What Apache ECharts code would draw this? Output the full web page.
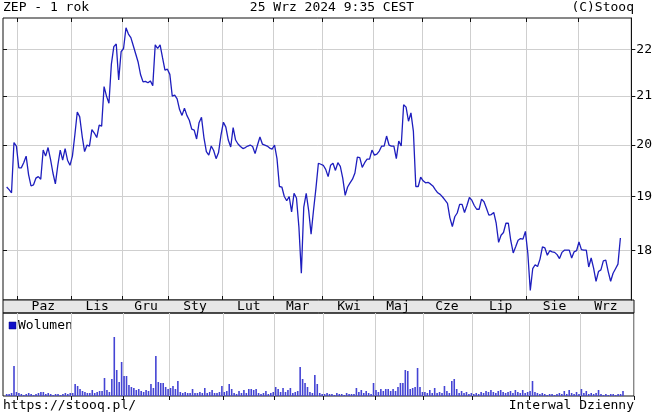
<!DOCTYPE html>
<html>
<head>
<meta charset="utf-8">
<script src="https://cdn.jsdelivr.net/npm/echarts@6/dist/echarts.min.js"></script>
<style>
  html, body { margin: 0; padding: 0; background: #fff; }
  #chart { width: 655px; height: 416px; }
</style>
</head>
<body>
<div id="chart"></div>
<script>
// sesje GPW: od startDate do endDate, bez weekendow i swiat
const startDate = '2023-09-25';
const endDate = '2024-09-25';
const holidays = ['2023-11-01', '2023-12-25', '2023-12-26', '2024-01-01', '2024-03-29',
  '2024-04-01', '2024-05-01', '2024-05-03', '2024-05-30', '2024-08-15'];
// puste miejsce po bokach osi
const padBefore = ['2023-09-22'];
const padAfter = ['2024-09-26', '2024-09-27', '2024-09-30', '2024-10-01'];

const monthNames = ['Sty', 'Lut', 'Mar', 'Kwi', 'Maj', 'Cze', 'Lip', 'Sie', 'Wrz', 'Paz', 'Lis', 'Gru'];
const priceTicks = [18, 19, 20, 21, 22];

// kurs zamkniecia
const closes = [
  19.18, 19.13, 19.07, 20.05, 19.98,                                   // wrz
  19.55, 19.55, 19.65, 19.78, 19.42, 19.2, 19.22, 19.35, 19.38, 19.33, 19.9,
  19.78, 19.95, 19.72, 19.45, 19.24, 19.6, 19.9, 19.7, 19.93, 19.7, 19.6, // paz
  19.78, 20.2, 20.67, 20.57, 20.18, 19.87, 20.0, 19.98, 20.31, 20.24, 20.15,
  20.4, 20.38, 21.2, 21.0, 20.85, 21.68, 22.06, 22.12, 21.34, 21.95,    // lis
  22.02, 22.48, 22.34, 22.26, 22.08, 21.9, 21.72, 21.45, 21.3, 21.31, 21.28,
  21.32, 21.22, 22.1, 22.02, 22.1, 21.82, 21.55, 21.57,                 // gru
  21.46, 21.0, 21.02, 20.94, 20.72, 20.6, 20.75, 20.6, 20.5, 20.32, 20.3,
  20.12, 20.45, 20.56, 20.15, 19.87, 19.8, 19.98, 19.89, 19.73, 19.85, 20.2, // sty
  20.46, 20.36, 20.1, 19.96, 20.35, 20.1, 20.02, 19.97, 19.93, 19.95, 19.98,
  20.0, 19.97, 19.83, 20.0, 20.16, 20.02, 20.0, 19.98, 19.94, 19.92,    // lut
  20.0, 19.73, 19.19, 19.18, 19.0, 18.92, 19.0, 18.71, 19.06, 18.97,
  18.43, 17.6, 18.8, 19.06, 18.74, 18.3, 18.74, 19.16, 19.64, 19.62,    // mar
  19.6, 19.52, 19.38, 19.6, 19.64, 19.5, 19.65, 19.58, 19.35, 19.02, 19.18,
  19.26, 19.33, 19.45, 19.76, 19.75, 19.56, 19.65, 19.72, 19.72, 19.9,  // kwi
  19.8, 19.82, 19.88, 19.98, 19.98, 20.18, 20.0, 19.98, 19.98, 19.73,
  20.08, 19.98, 20.82, 20.77, 20.48, 20.65, 20.28, 19.19, 19.19, 19.37, // maj
  19.3, 19.26, 19.27, 19.24, 19.2, 19.13, 19.07, 19.04, 18.99, 18.93,
  18.87, 18.6, 18.44, 18.62, 18.69, 18.85, 18.85, 18.7, 18.83, 18.98,   // cze
  18.93, 18.83, 18.76, 18.76, 18.95, 18.9, 18.78, 18.65, 18.66, 18.7, 18.5, 18.15,
  18.28, 18.33, 18.5, 18.5, 18.18, 17.96, 18.07, 18.19, 18.22, 18.21, 18.35, // lip
  17.95, 17.3, 17.68, 17.75, 17.72, 17.85, 18.07, 18.05, 17.92, 18.0, 17.98,
  17.97, 17.93, 17.86, 17.97, 18.01, 18.01, 18.01, 17.87, 17.98, 18.0,  // sie
  18.16, 18.02, 18.01, 18.01, 17.71, 17.87, 17.69, 17.46, 17.63,
  17.66, 17.82, 17.83, 17.63, 17.46, 17.6, 17.68, 17.76, 18.23          // wrz
];

// wolumen (tys. szt.)
const volumes = [
  2, 2, 3, 30, 4,
  3, 2, 1, 2, 3, 2, 1, 2, 3, 4, 4, 2, 3, 2, 1, 2, 2, 1, 2, 3, 2, 3,
  3, 12, 10, 7, 5, 4, 3, 3, 6, 3, 4, 5, 5, 18, 6, 4, 17, 59, 26, 14, 34,
  20, 20, 11, 9, 8, 6, 7, 5, 4, 6, 5, 12, 8, 40, 14, 13, 13, 9, 7,
  8, 10, 7, 15, 4, 3, 4, 3, 3, 7, 3, 3, 4, 3, 8, 3, 4, 6, 3, 3, 4, 10,
  4, 5, 12, 7, 3, 2, 5, 3, 6, 3, 7, 7, 6, 7, 3, 2, 3, 5, 2, 3, 4,
  9, 7, 4, 8, 4, 6, 8, 3, 4, 5, 29, 17, 13, 9, 4, 3, 21, 12, 3, 2,
  2, 3, 2, 2, 1, 3, 2, 2, 1, 3, 2, 2, 2, 8, 4, 6, 3, 5, 3, 2, 13,
  6, 4, 7, 5, 7, 7, 5, 7, 5, 9, 13, 13, 26, 25, 7, 8, 9, 28, 9, 4,
  4, 3, 6, 3, 8, 3, 4, 3, 10, 5, 3, 15, 17, 7, 3, 5, 3, 4, 2, 3,
  2, 3, 2, 4, 3, 5, 4, 6, 4, 3, 5, 6, 4, 3, 4, 5, 3, 6, 4, 3, 6, 3, 4,
  5, 15, 4, 3, 2, 3, 2, 1, 2, 2, 1, 2, 3, 2, 5, 2, 6, 3, 2, 4, 2,
  7, 3, 5, 2, 3, 2, 3, 6, 2, 1, 2, 1, 2, 2, 1, 2, 2, 5
];

function tradingDays(from, to, skip) {
  const out = [];
  const d = new Date(from + 'T00:00:00Z');
  const end = new Date(to + 'T00:00:00Z');
  while (d <= end) {
    const s = d.toISOString().slice(0, 10);
    const wd = d.getUTCDay();
    if (wd !== 0 && wd !== 6 && skip.indexOf(s) < 0) out.push(s);
    d.setUTCDate(d.getUTCDate() + 1);
  }
  return out;
}

const dates = tradingDays(startDate, endDate, holidays);
const categories = padBefore.concat(dates, padAfter);

// poczatki miesiecy (indeksy kategorii) i miejsca podpisow
const starts = [];
dates.forEach((d, i) => {
  if (i > 0 && d.slice(0, 7) !== dates[i - 1].slice(0, 7)) starts.push(i + padBefore.length);
});
const isStart = (idx) => starts.indexOf(idx) >= 0;
const labelAt = {};
starts.forEach((s, k) => {
  const e = k + 1 < starts.length ? starts[k + 1] : categories.length;
  labelAt[Math.floor((s + e - 1) / 2)] = monthNames[+categories[s].slice(5, 7) - 1];
});

const FONT = 'DejaVu Sans Mono';
const gridColor = '#cfcfcf';
const edge = '#111';

const option = {
  animation: false,
  backgroundColor: '#fff',
  grid: [
    { left: 3, right: 21, top: 18, height: 282, show: true, borderColor: edge, borderWidth: 1 },
    { left: 3, right: 21, top: 300, height: 13, show: true, backgroundColor: '#e6e6e6', borderColor: edge, borderWidth: 1 },
    { left: 3, right: 21, top: 313, height: 83, show: true, borderColor: edge, borderWidth: 1 }
  ],
  xAxis: [
    {
      gridIndex: 0, type: 'category', data: categories, boundaryGap: true, position: 'bottom',
      axisLine: { show: false },
      axisTick: { show: true, inside: true, length: 4, interval: isStart, lineStyle: { color: edge } },
      axisLabel: { show: false },
      splitLine: { show: true, interval: isStart, lineStyle: { color: gridColor, width: 1 } }
    },
    {
      gridIndex: 0, type: 'category', data: categories, boundaryGap: true, position: 'top',
      axisLine: { show: false },
      axisTick: { show: true, inside: true, length: 4, interval: isStart, lineStyle: { color: edge } },
      axisLabel: { show: false },
      splitLine: { show: false }
    },
    {
      gridIndex: 1, type: 'category', data: categories, boundaryGap: true, position: 'bottom',
      axisLine: { show: false },
      axisTick: { show: false },
      axisLabel: {
        show: true, interval: (idx) => labelAt[idx] !== undefined,
        formatter: (val, idx) => labelAt[idx] || '',
        margin: -6, verticalAlign: 'middle',
        color: '#000', fontFamily: FONT, fontSize: 13
      },
      splitLine: { show: false }
    },
    {
      gridIndex: 2, type: 'category', data: categories, boundaryGap: true, position: 'top',
      axisLine: { show: false },
      axisTick: { show: true, inside: true, length: 4, interval: isStart, lineStyle: { color: edge } },
      axisLabel: { show: false },
      splitLine: { show: true, interval: isStart, lineStyle: { color: gridColor, width: 1 } }
    }
  ],
  yAxis: [
    {
      gridIndex: 0, type: 'log', logBase: 10, min: 17.137, max: 22.70, position: 'right',
      axisLine: { show: true, lineStyle: { color: edge } },
      axisTick: { show: true, inside: false, length: 4, customValues: priceTicks, lineStyle: { color: edge } },
      axisLabel: { show: true, customValues: priceTicks, margin: 5, color: '#000', fontFamily: FONT, fontSize: 13 },
      splitLine: { show: true, lineStyle: { color: gridColor, width: 1 } }
    },
    {
      gridIndex: 0, type: 'log', logBase: 10, min: 17.137, max: 22.70, position: 'left',
      axisLine: { show: false },
      axisTick: { show: true, inside: true, length: 4, customValues: priceTicks, lineStyle: { color: edge } },
      axisLabel: { show: false },
      splitLine: { show: false }
    },
    { gridIndex: 1, type: 'value', min: 0, max: 1, show: false },
    { gridIndex: 2, type: 'value', min: 0, max: 83, show: false }
  ],
  graphic: [
    { type: 'text', x: 3, y: 1, style: { text: 'ZEP - 1 rok', font: '13px ' + FONT, fill: '#000', textVerticalAlign: 'top' } },
    { type: 'text', x: 332, y: 1, style: { text: '25 Wrz 2024 9:35 CEST', font: '13px ' + FONT, fill: '#000', textAlign: 'center', textVerticalAlign: 'top' } },
    { type: 'text', x: 634, y: 1, style: { text: '(C)Stooq', font: '13px ' + FONT, fill: '#000', textAlign: 'right', textVerticalAlign: 'top' } },
    { type: 'rect', shape: { x: 9, y: 322, width: 7, height: 7 }, style: { fill: '#1010c8', stroke: '#000080', lineWidth: 0.5 } },
    { type: 'text', x: 18, y: 319, style: { text: 'Wolumen', font: '13px ' + FONT, fill: '#000', textVerticalAlign: 'top' } },
    { type: 'text', x: 3, y: 399, style: { text: 'https://stooq.pl/', font: '13px ' + FONT, fill: '#000', textVerticalAlign: 'top' } },
    { type: 'text', x: 634, y: 399, style: { text: 'Interwal Dzienny', font: '13px ' + FONT, fill: '#000', textAlign: 'right', textVerticalAlign: 'top' } }
  ],
  series: [
    {
      name: 'ZEP', type: 'line', xAxisIndex: 0, yAxisIndex: 0,
      data: dates.map((d, i) => [d, closes[i]]),
      showSymbol: false, silent: true,
      lineStyle: { color: '#1e1ebe', width: 1.3 }
    },
    {
      name: 'Wolumen', type: 'bar', xAxisIndex: 3, yAxisIndex: 3,
      data: dates.map((d, i) => [d, volumes[i]]),
      barWidth: 1.6, silent: true,
      itemStyle: { color: '#4444d4' }
    }
  ]
};

const myChart = echarts.init(document.getElementById('chart'));
myChart.setOption(option);
</script>
</body>
</html>
